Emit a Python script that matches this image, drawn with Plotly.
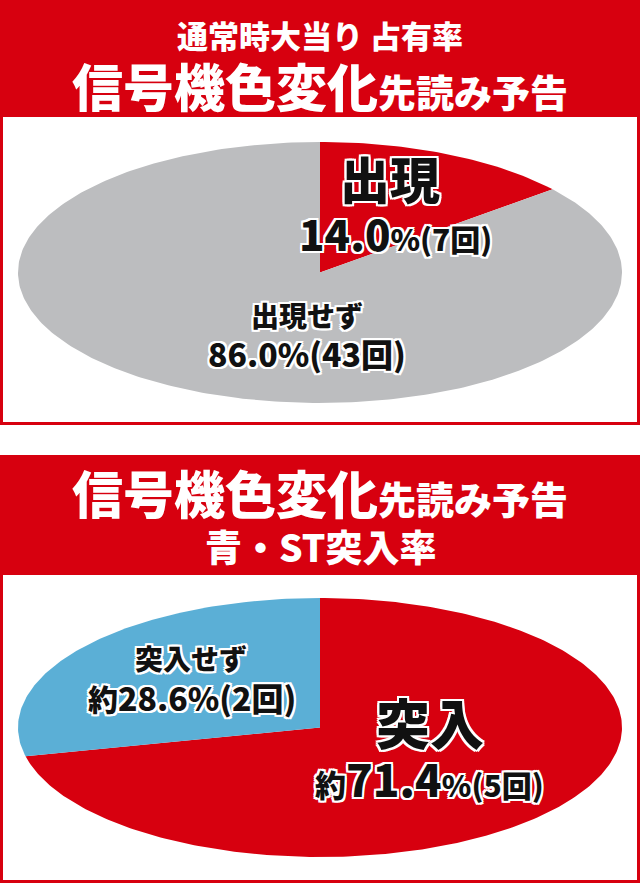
import numpy as np
import plotly.graph_objects as go

# データ
occur_labels = ["出現", "出現せず"]
occur_counts = [7, 43]
occur_colors = ["#D7000F", "#BCBDBF"]

rush_labels = ["突入", "突入せず"]
rush_counts = [5, 2]
rush_colors = ["#D7000F", "#5BAFD6"]

W, H = 640, 884
RED = "#D7000F"
FONT = "Noto Sans CJK JP"
OUTLINE = ", ".join(f"{dx}px {dy}px 0 #fff" for dx in (-2, 0, 2) for dy in (-2, 0, 2) if dx or dy)


def p(x, y):
    # ピクセル座標 -> paper座標
    return x / W, 1 - y / H


def wedges(counts, colors, xa, ya):
    # 12時から時計回りに扇形を作る (軸の縦横比で楕円になる)
    total = sum(counts)
    traces = []
    start = 0.0
    for c, col in zip(counts, colors):
        end = start + c / total * 2 * np.pi
        th = np.linspace(start, end, max(int(c / total * 400), 4))
        xs = np.concatenate([[0], np.sin(th), [0]])
        ys = np.concatenate([[0], np.cos(th), [0]])
        traces.append(go.Scatter(x=xs, y=ys, mode="lines", fill="toself",
                                 fillcolor=col, line=dict(width=0, color=col),
                                 hoverinfo="skip", showlegend=False,
                                 xaxis=xa, yaxis=ya))
        start = end
    return traces


fig = go.Figure()
for t in wedges(occur_counts, occur_colors, "x", "y"):
    fig.add_trace(t)
for t in wedges(rush_counts, rush_colors, "x2", "y2"):
    fig.add_trace(t)

ax = dict(range=[-1, 1], visible=False, fixedrange=True)
fig.update_layout(
    width=W, height=H,
    margin=dict(l=0, r=0, t=0, b=0),
    paper_bgcolor="white", plot_bgcolor="rgba(0,0,0,0)",
    xaxis=dict(ax, domain=[18 / W, 622 / W]),
    yaxis=dict(ax, domain=[1 - 403 / H, 1 - 142 / H]),
    xaxis2=dict(ax, domain=[18 / W, 622 / W], anchor="y2"),
    yaxis2=dict(ax, domain=[1 - 857 / H, 1 - 598 / H], anchor="x2"),
)

# 見出しと枠
shapes = []
for top, head_bottom, bottom in [(0, 117, 423.5), (455, 575, 881.5)]:
    x0, y0 = p(0, top)
    x1, y1 = p(640, head_bottom)
    shapes.append(dict(type="rect", xref="paper", yref="paper", x0=x0, y0=y0, x1=x1, y1=y1,
                       fillcolor=RED, line=dict(width=0), layer="below"))
    x0, y0 = p(1.5, top + 1.5)
    x1, y1 = p(638.5, bottom)
    shapes.append(dict(type="rect", xref="paper", yref="paper", x0=x0, y0=y0, x1=x1, y1=y1,
                       line=dict(color=RED, width=3), layer="below"))
fig.update_layout(shapes=shapes)


def note(x, y, text, size, color="#111", outline=True):
    ax_, ay_ = p(x, y)
    font = dict(family=FONT, size=size, color=color, weight=900)
    if outline:
        font["shadow"] = OUTLINE
    fig.add_annotation(x=ax_, y=ay_, xref="paper", yref="paper", text=text,
                       showarrow=False, xanchor="center", yanchor="middle",
                       borderpad=0, font=font)


def sp(text, size):
    return f'<span style="font-size:{size}px">{text}</span>'


# 見出しテキスト
note(320, 35, "通常時大当り 占有率", 31, "white", False)
note(320, 85, "信号機色変化" + sp("先読み予告", 38), 51, "white", False)
note(320, 492, "信号機色変化" + sp("先読み予告", 38), 51, "white", False)
note(320, 546, "青・ST突入率", 37, "white", False)

# ラベル
o_tot = sum(occur_counts)
r_tot = sum(rush_counts)
note(390, 177, occur_labels[0], 50)
note(395, 233, f"{occur_counts[0] / o_tot * 100:.1f}" + sp(f"%({occur_counts[0]}回)", 30), 42)
note(307, 315, occur_labels[1], 28)
note(307, 353, f"{occur_counts[1] / o_tot * 100:.1f}%({occur_counts[1]}回)", 32)

note(430, 721, rush_labels[0], 54)
note(429, 778, sp("約", 31) + f"{rush_counts[0] / r_tot * 100:.1f}" + sp(f"%({rush_counts[0]}回)", 30), 44)
note(191, 658, rush_labels[1], 28)
note(192, 697, sp("約", 30) + f"{rush_counts[1] / r_tot * 100:.1f}%({rush_counts[1]}回)", 32)

fig.write_html("out.html", config={"displayModeBar": False},
               post_script="document.body.style.margin='0';document.body.style.overflow='hidden';")
